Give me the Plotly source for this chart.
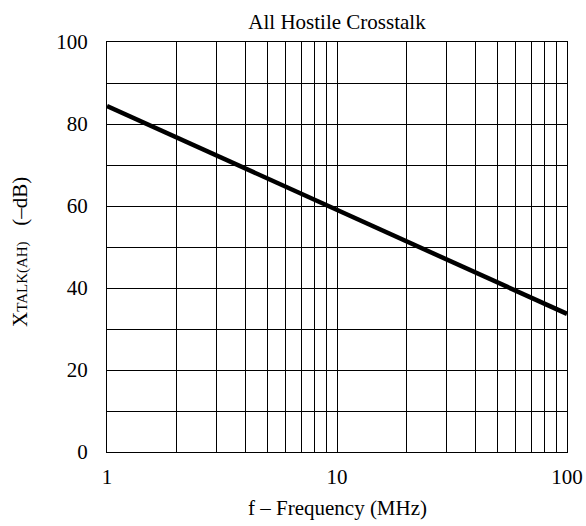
import plotly.graph_objects as go

# Data
freq_mhz = [1, 100]
xtalk_db = [84.4, 33.7]

x_tickvals = [1, 2, 3, 4, 5, 6, 7, 8, 9, 10, 20, 30, 40, 50, 60, 70, 80, 90, 100]
x_ticktext = ["1", "", "", "", "", "", "", "", "", "10", "", "", "", "", "", "", "", "", "100"]
y_tickvals = [0, 10, 20, 30, 40, 50, 60, 70, 80, 90, 100]
y_ticktext = ["0", "", "20", "", "40", "", "60", "", "80", "", "100"]

title_text = "All Hostile Crosstalk"
x_title = "f – Frequency (MHz)"
y_title = 'X<span style="font-size:15px">TALK(AH)</span>   (–dB)'

FONT = "Liberation Serif"
FS = 21

L, R, T, B = 107, 19, 42, 74
W, H = 586, 526
PW, PH = W - L - R, H - T - B


def px_x(p):
    return (p - L) / PW


def px_y(p):
    return (H - B - p) / PH


fig = go.Figure()
fig.add_trace(go.Scatter(
    x=freq_mhz, y=xtalk_db, mode="lines",
    line=dict(color="black", width=4.5),
    showlegend=False, hoverinfo="skip",
))

fig.update_layout(
    width=W, height=H,
    margin=dict(l=L, r=R, t=T, b=B),
    paper_bgcolor="white", plot_bgcolor="white",
    font=dict(family=FONT, color="black", size=FS),
    title=dict(text=title_text, x=337 / W, xanchor="center", y=1 - 22 / H, yanchor="middle",
               font=dict(family=FONT, size=FS, color="black")),
    annotations=[
        dict(text=x_title, xref="paper", yref="paper", x=px_x(337), y=px_y(508),
             xanchor="center", yanchor="middle", showarrow=False,
             font=dict(family=FONT, size=FS, color="black")),
        dict(text=y_title, xref="paper", yref="paper", x=px_x(20), y=px_y(252),
             xanchor="center", yanchor="middle", showarrow=False, textangle=-90,
             font=dict(family=FONT, size=FS, color="black")),
    ],
)

fig.update_xaxes(
    type="log", range=[0, 2], automargin=False,
    tickmode="array", tickvals=x_tickvals, ticktext=x_ticktext,
    showgrid=True, gridcolor="black", gridwidth=1,
    showline=True, linecolor="black", linewidth=1, mirror=True,
    ticks="outside", ticklen=6, tickcolor="rgba(0,0,0,0)",
    tickfont=dict(family=FONT, size=FS, color="black"),
    zeroline=False,
)
fig.update_yaxes(
    range=[0, 100], automargin=False,
    tickmode="array", tickvals=y_tickvals, ticktext=y_ticktext,
    showgrid=True, gridcolor="black", gridwidth=1,
    showline=True, linecolor="black", linewidth=1, mirror=True,
    ticks="outside", ticklen=14, tickcolor="rgba(0,0,0,0)",
    tickfont=dict(family=FONT, size=FS, color="black"),
    zeroline=False,
)

fig.write_html("out.html")
